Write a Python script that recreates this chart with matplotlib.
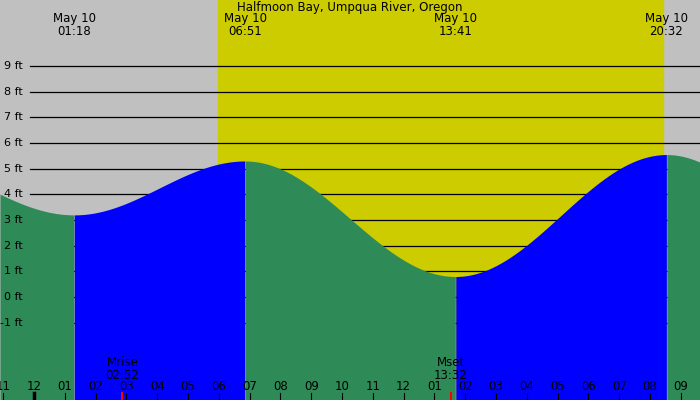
import numpy as np
import matplotlib
matplotlib.use("Agg")
import matplotlib.pyplot as plt

title = "Halfmoon Bay, Umpqua River, Oregon"
# tide extremes (hours since midnight May 10, height ft)
ext_h = [-4.5, 1.30, 6.85, 13.68, 20.53, 27.0]
ext_v = [5.4, 3.2, 5.3, 0.8, 5.55, 1.2]
ext_lbl = ["01:18", "06:51", "13:41", "20:32"]
sunrise, sunset = 5.97, 20.42
moon_names = ["Mrise", "Mset"]
moon_times = [2.87, 13.53]
moon_lbl = ["02:52", "13:32"]
hour_lbls = ["11","12","01","02","03","04","05","06","07","08","09","10","11","12",
             "01","02","03","04","05","06","07","08","09"]
ft_levels = [-1,0,1,2,3,4,5,6,7,8,9]

x0, x1 = -1.104, 21.62
y0, y1 = -4.01, 11.57

fig = plt.figure(figsize=(7,4), dpi=100)
ax = fig.add_axes([0,0,1,1])
ax.set_xlim(x0, x1); ax.set_ylim(y0, y1); ax.axis("off")
ax.axvspan(x0, x1, color="#c0c0c0", zorder=0)
ax.axvspan(sunrise, sunset, color="#cccc00", zorder=0)

for f in ft_levels:
    ax.plot([-0.13, x1], [f, f], color="black", lw=0.9, zorder=1)
    ax.text(-0.36, f, f"{f} ft", ha="right", va="center", fontsize=8, zorder=5)

h = np.linspace(x0, x1, 1500)
v = np.zeros_like(h)
for i in range(len(ext_h)-1):
    m = (h >= ext_h[i]) & (h <= ext_h[i+1])
    t = (h[m]-ext_h[i])/(ext_h[i+1]-ext_h[i])
    v[m] = ext_v[i] + (ext_v[i+1]-ext_v[i])*(1-np.cos(np.pi*t))/2
for i in range(len(ext_h)-1):
    m = (h >= ext_h[i]) & (h <= ext_h[i+1])
    col = "#0000ff" if ext_v[i+1] > ext_v[i] else "#2e8b57"
    ax.fill_between(h[m], y0, v[m], color=col, lw=0, zorder=2)

for hh, lb in zip(ext_h[1:5], ext_lbl):
    ax.text(hh, 10.6, f"May 10\n{lb}", ha="center", va="center", fontsize=8.5, linespacing=0.95, zorder=5)
ax.text(0.5, 0.98, title, transform=ax.transAxes, ha="center", va="center", fontsize=8.5, zorder=5)

for nm, mt, lb in zip(moon_names, moon_times, moon_lbl):
    ax.text(mt, -2.8, f"{nm}\n{lb}", ha="center", va="center", fontsize=8.5, linespacing=0.95, zorder=5)
    ax.plot([mt, mt], [y0, -3.75], color="red", lw=1.5, zorder=6)

for i, lb in enumerate(hour_lbls):
    hx = i - 1
    ax.text(hx, -3.47, lb, ha="center", va="center", fontsize=8.5, zorder=5)
    ax.plot([hx, hx], [y0, -3.75], color="black", lw=2.5 if lb == "12" and i == 1 else 0.8, zorder=6)

fig.savefig("out.png", dpi=100)
